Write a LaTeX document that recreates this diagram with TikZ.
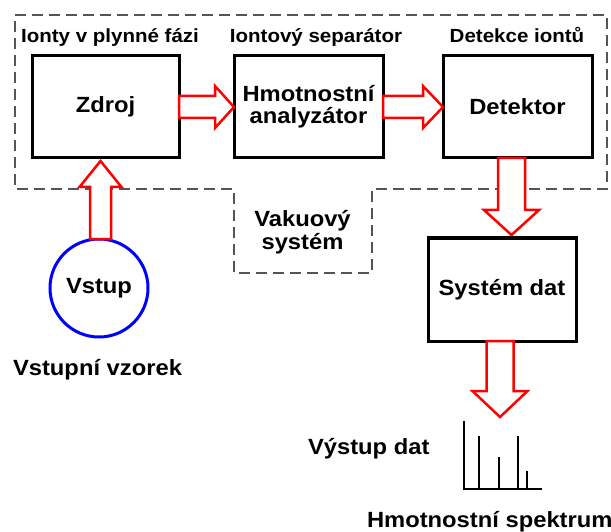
\documentclass[tikz,border=0pt]{standalone}
\usepackage{fontspec}
\setmainfont{Liberation Sans}[FakeStretch=1.08]
\usetikzlibrary{calc}
\definecolor{dashgray}{HTML}{555555}
\newcommand\blockarrow[5]{%
  \path ($(#2)!#5!(#1)$) coordinate (ba-h);
  \draw[blockarr] ($(#1)!#3!90:(#2)$) -- ($(ba-h)!#3!-90:(#1)$) -- ($(ba-h)!#4!-90:(#1)$) -- (#2)
     -- ($(ba-h)!#4!90:(#1)$) -- ($(ba-h)!#3!90:(#1)$) -- ($(#1)!#3!-90:(#2)$) -- cycle;}
\tikzset{
  box/.style={draw=black, line width=3pt, fill=white, inner sep=0pt, outer sep=0pt,
    font=\fontsize{22}{22}\selectfont\bfseries, align=center},
  hdr/.style={inner sep=0pt, outer sep=0pt, anchor=base, font=\fontsize{19}{19}\selectfont\bfseries},
  lbl/.style={inner sep=0pt, outer sep=0pt, font=\fontsize{22}{23}\selectfont\bfseries},
  blockarr/.style={draw=red, fill=white, line width=2.5pt, line join=miter},
  vac/.style={draw=dashgray, line width=1.5pt, dash pattern=on 11pt off 6pt},
}
\begin{document}
\begin{tikzpicture}[x=1pt,y=-1pt]
\useasboundingbox (0,0) rectangle (611,532);
% vacuum system outline
\draw[vac] (15,15) -- (607,15) -- (607,189) -- (372,189) -- (372,273) -- (234,273) -- (234,189) -- (15,189) -- cycle;
% headers
\node[hdr] (h1) at (110,43) {Ionty v plynné fázi};
\node[hdr] (h2) at (316,43) {Iontový separátor};
\node[hdr] (h3) at (517,43) {Detekce iontů};
% boxes
\node[box, minimum width=147pt, minimum height=102pt] (zdroj) at (105.5,107) {Zdroj};
\node[box, minimum width=149pt, minimum height=102pt] (hmot) at (308.5,107) {Hmotnostní\\analyzátor};
\node[box, minimum width=149pt, minimum height=102pt] (det) at (517.5,107) {Detektor};
\node[box, minimum width=148pt, minimum height=103pt] (sys) at (502,289.5) {Systém dat};
\node[circle, draw=blue, line width=3pt, minimum size=98pt, inner sep=0pt, outer sep=0pt,
  font=\fontsize{22}{22}\selectfont\bfseries] (vstup) at (99,288) {\raisebox{-3pt}{Vstup}};
% labels
\node[lbl, align=center] (vak) at (302.5,232.5) {Vakuový\\systém};
\node[lbl, anchor=base west] (vzorek) at (13,375) {Vstupní vzorek};
\node[lbl, anchor=base west] (vystup) at (308,454) {Výstup dat};
\node[lbl, anchor=base west] (spektrum) at (367,527) {Hmotnostní spektrum};
% arrows
\coordinate (d1s) at ($(det.south)+(-6,0)$);
\coordinate (d1e) at ($(d1s |- sys.north)+(0,-3)$);
\coordinate (d2s) at ($(sys.south)+(-2,0)$);
\coordinate (d2e) at ($(d2s)+(0,76)$);
\coordinate (u1s) at ($(vstup.north)+(1.5,0)$);
\coordinate (u1e) at ($(u1s |- zdroj.south)+(0,3)$);
\blockarrow{zdroj.east}{hmot.west}{11pt}{21pt}{19pt}
\blockarrow{hmot.east}{det.west}{11pt}{21pt}{20pt}
\blockarrow{d1s}{d1e}{13.5pt}{27.5pt}{25pt}
\blockarrow{d2s}{d2e}{13.5pt}{27.5pt}{26pt}
\blockarrow{u1s}{u1e}{10.5pt}{21pt}{26pt}
% spectrum
\coordinate (sp0) at (464,489);
\draw[line width=2.5pt] (464,421) -- (sp0) -- (542,489);
\draw[line width=1.5pt] (479,489) -- (479,436) (499,489) -- (499,457) (518,489) -- (518,436) (527,489) -- (527,471);
\end{tikzpicture}
\end{document}
